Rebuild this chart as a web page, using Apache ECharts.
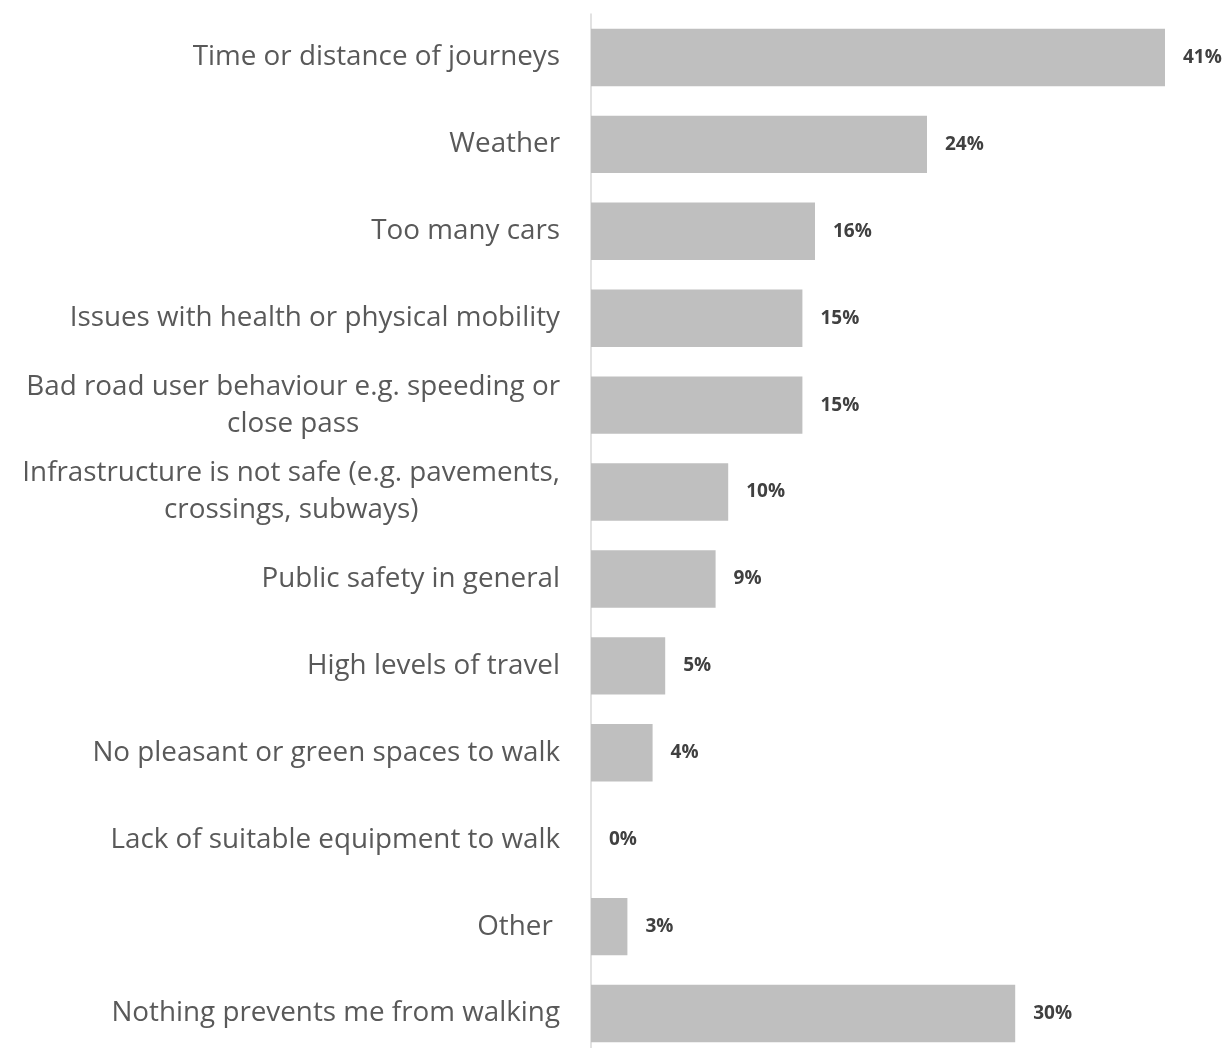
<!DOCTYPE html>
<html>
<head>
<meta charset="utf-8">
<script src="https://cdn.jsdelivr.net/npm/echarts@6/dist/echarts.min.js"></script>
<style>
html,body{margin:0;padding:0;background:#fff;overflow:hidden;}
#chart{width:1229px;height:1064px;}
</style>
</head>
<body>
<div id="chart"></div>
<script>
var categories = [
  'Time or distance of journeys',
  'Weather',
  'Too many cars',
  'Issues with health or physical mobility',
  'Bad road user behaviour e.g. speeding or\nclose pass',
  'Infrastructure is not safe (e.g. pavements,\ncrossings, subways)',
  'Public safety in general',
  'High levels of travel',
  'No pleasant or green spaces to walk',
  'Lack of suitable equipment to walk',
  'Other ',
  'Nothing prevents me from walking'
];
var values = [41, 24, 16, 15.1, 15.1, 9.8, 8.9, 5.3, 4.4, 0, 2.6, 30.3];

var chart = echarts.init(document.getElementById('chart'));
chart.setOption({
  animation: false,
  grid: { left: 591, width: 630, top: 14, height: 1043, containLabel: false },
  xAxis: { type: 'value', min: 0, max: 45, show: false },
  yAxis: {
    type: 'category',
    inverse: true,
    data: categories,
    axisLine: { show: true, lineStyle: { color: '#D9D9D9', width: 1.5 } },
    axisTick: { show: false },
    splitLine: { show: false },
    axisLabel: {
      margin: 31,
      color: '#595959',
      fontFamily: 'Open Sans',
      fontSize: 27.8,
      lineHeight: 37,
      formatter: function (v) {
        var lines = v.split('\n');
        if (lines.length === 1) return v;
        return lines.map(function (l) { return '{c|' + l + '}'; }).join('\n');
      },
      rich: {
        c: { align: 'center', color: '#595959', fontFamily: 'Open Sans', fontSize: 27.8, lineHeight: 37 }
      }
    }
  },
  series: [{
    type: 'bar',
    data: values,
    barCategoryGap: '34%',
    itemStyle: { color: '#BFBFBF' },
    label: {
      show: true,
      position: 'right',
      distance: 18,
      color: '#404040',
      fontFamily: 'Open Sans',
      fontWeight: 'bold',
      fontSize: 19,
      formatter: function (p) { return Math.round(p.value) + '%'; }
    }
  }]
});
</script>
</body>
</html>
